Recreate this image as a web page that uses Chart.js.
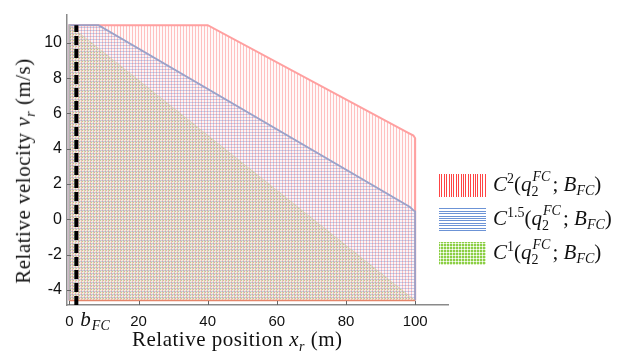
<!DOCTYPE html>
<html lang="en">
<head>
<meta charset="UTF-8">
<title>Relative velocity vs relative position</title>
<script src="https://cdn.jsdelivr.net/npm/chart.js"></script>
<style>
    body { margin: 0; background: #fff; }
    #wrap { position: relative; width: 641px; height: 360px; }
    .math { font-family: "Liberation Serif", serif; color: #111; white-space: nowrap; }
    #xTitle { position: absolute; left: 132px; top: 327px; font-size: 21px; letter-spacing: 0.5px; }
    #yTitle { position: absolute; left: 25px; top: 171px; font-size: 21px; letter-spacing: 0.5px;
              transform: translate(-50%, -50%) rotate(-90deg); }
    #legend { position: absolute; left: 439px; top: 168px; }
    .row { display: flex; align-items: center; height: 34px; }
    .sw { width: 47px; height: 23px; margin-right: 7px; flex: none; }
    .sw.red { background: repeating-linear-gradient(90deg, #f44 0 1px, #fff 1px 2.4px); }
    .sw.blue { background: repeating-linear-gradient(0deg, #6c93d6 0 1px, #fff 1px 2.4px); }
    .sw.green { background: #8ccf45 radial-gradient(circle, #fff 0.9px, transparent 1.2px) 0 0 / 3px 3px; }
    .lab { font-size: 21px; }
    .lab i { font-style: italic; }
    .sup { font-size: 14px; vertical-align: 8px; }
    .sub { font-size: 14px; vertical-align: -4px; }
    .st { display: inline-block; position: relative; width: 21px; height: 1em; font-size: 14px; }
    .st .up { position: absolute; left: 1px; top: -8px; }
    .st .dn { position: absolute; left: 0; top: 7px; font-style: normal; }
</style>
</head>
<body>
<div id="wrap">
    <canvas id="regionChart" width="641" height="360"></canvas>
    <div id="xTitle" class="math">Relative position <i>x<sub style="font-size:14px">r</sub></i> (m)</div>
    <div id="yTitle" class="math">Relative velocity <i>v<sub style="font-size:14px">r</sub></i> (m/s)</div>
    <div id="legend" class="math">
        <div class="row"><div class="sw red"></div><span class="lab"><i>C</i><span class="sup">2</span>(<i>q</i><span class="st"><i class="up">FC</i><span class="dn">2</span></span>; <i>B</i><i class="sub">FC</i>)</span></div>
        <div class="row"><div class="sw blue"></div><span class="lab"><i>C</i><span class="sup">1.5</span>(<i>q</i><span class="st"><i class="up">FC</i><span class="dn">2</span></span>; <i>B</i><i class="sub">FC</i>)</span></div>
        <div class="row"><div class="sw green"></div><span class="lab"><i>C</i><span class="sup">1</span>(<i>q</i><span class="st"><i class="up">FC</i><span class="dn">2</span></span>; <i>B</i><i class="sub">FC</i>)</span></div>
    </div>
</div>

<script>
    // axis limits and ticks
    var xMin = -0.7, xMax = 109.5;
    var yMin = -4.85, yMax = 11.6;
    var xTicks = [0, 20, 40, 60, 80, 100];
    var yTicks = [-4, -2, 0, 2, 4, 6, 8, 10];

    // b_FC marker position and the floor of the sets
    var bFC = 2;
    var vTop = 11;
    var yBottom = -4.6;

    // C^2 set boundary
    var c2X = [0, 0, 40, 98, 99.5, 100, 100];
    var c2Y = [yBottom, 11, 11, 4.9, 4.75, 4.6, yBottom];
    // C^1.5 set boundary
    var c15X = [0, 0, 8.4, 98.5, 99.6, 100, 100];
    var c15Y = [yBottom, 11, 11, 0.7, 0.5, 0.45, yBottom];
    // C^1 set boundary
    var c1X = [0, 0, 100];
    var c1Y = [yBottom, 11, yBottom];

    function pts(xs, ys) {
        return xs.map(function(x, i) { return {x: x, y: ys[i]}; });
    }

    var ctx = document.getElementById('regionChart').getContext('2d');

    // small repeating tiles for the hatch fills
    function makePattern(kind, size, lineColor, baseColor) {
        var c = document.createElement('canvas');
        c.width = size; c.height = size;
        var g = c.getContext('2d');
        g.fillStyle = baseColor;
        g.fillRect(0, 0, size, size);
        g.fillStyle = lineColor;
        if (kind === 'v') g.fillRect(0, 0, 1, size);
        if (kind === 'h') g.fillRect(0, 0, size, 1);
        if (kind === 'd') { g.fillRect(1, 1, 1, 1); }
        return ctx.createPattern(c, 'repeat');
    }

    var redFill = makePattern('v', 3, 'rgba(255,70,70,0.32)', 'rgba(255,140,140,0.05)');
    var blueFill = makePattern('h', 3, 'rgba(80,110,200,0.28)', 'rgba(100,120,200,0.04)');
    var greenFill = makePattern('d', 3, 'rgba(120,170,40,0.45)', 'rgba(190,190,90,0.14)');

    var innerTicks = {
        id: 'innerTicks',
        afterDraw: function(chart) {
            var c = chart.ctx, a = chart.chartArea, sx = chart.scales.x, sy = chart.scales.y;
            c.save();
            c.strokeStyle = '#666';
            c.lineWidth = 1;
            sx.ticks.forEach(function(t) {
                var px = Math.round(sx.getPixelForValue(t.value)) + 0.5;
                c.beginPath(); c.moveTo(px, a.bottom); c.lineTo(px, a.bottom - 4); c.stroke();
            });
            sy.ticks.forEach(function(t) {
                var py = Math.round(sy.getPixelForValue(t.value)) + 0.5;
                c.beginPath(); c.moveTo(a.left, py); c.lineTo(a.left + 4, py); c.stroke();
            });
            // b_FC label under the dashed line
            var bx = sx.getPixelForValue(bFC) + 4;
            c.fillStyle = '#111';
            c.font = 'italic 21px "Liberation Serif"';
            c.fillText('b', bx, a.bottom + 21);
            var w = c.measureText('b').width;
            c.font = 'italic 14px "Liberation Serif"';
            c.fillText('FC', bx + w + 1, a.bottom + 25);
            c.restore();
        }
    };

    new Chart(ctx, {
        type: 'line',
        data: {
            datasets: [{
                label: 'bFC',
                data: pts([bFC, bFC], [yMin, vTop]),
                borderColor: '#000',
                borderWidth: 4,
                borderDash: [9, 4],
                pointRadius: 0,
                fill: false
            }, {
                label: 'floor',
                data: pts([0, 100], [yBottom, yBottom]),
                borderColor: '#e5866a',
                borderWidth: 1.5,
                pointRadius: 0,
                fill: false
            }, {
                label: 'C1',
                data: pts(c1X, c1Y),
                borderColor: 'rgba(200,200,150,0.5)',
                borderWidth: 1,
                backgroundColor: greenFill,
                pointRadius: 0,
                fill: {value: yBottom}
            }, {
                label: 'C1.5',
                data: pts(c15X, c15Y),
                borderColor: '#9ba2c9',
                borderWidth: 1.8,
                backgroundColor: blueFill,
                pointRadius: 0,
                fill: {value: yBottom}
            }, {
                label: 'C2',
                data: pts(c2X, c2Y),
                borderColor: '#ffa0a0',
                borderWidth: 2,
                backgroundColor: redFill,
                pointRadius: 0,
                fill: {value: yBottom}
            }]
        },
        options: {
            responsive: false,
            animation: false,
            layout: { padding: { top: 4, right: 193, left: 0, bottom: 0 } },
            plugins: { legend: { display: false }, tooltip: { enabled: false } },
            elements: { line: { tension: 0 } },
            scales: {
                x: {
                    type: 'linear',
                    min: xMin,
                    max: xMax,
                    afterBuildTicks: function(s) { s.ticks = xTicks.map(function(v) { return {value: v}; }); },
                    afterFit: function(s) { s.height = 55; },
                    grid: { drawOnChartArea: false, drawTicks: false },
                    border: { color: '#8a8a8a', width: 1.5 },
                    ticks: { color: '#111', padding: 8, maxRotation: 0, font: { family: 'Liberation Sans', size: 15 } }
                },
                y: {
                    min: yMin,
                    max: yMax,
                    afterBuildTicks: function(s) { s.ticks = yTicks.map(function(v) { return {value: v}; }); },
                    afterFit: function(s) { s.width = 67; },
                    grid: { drawOnChartArea: false, drawTicks: false },
                    border: { color: '#8a8a8a', width: 1.5 },
                    ticks: { color: '#111', padding: 5, font: { family: 'Liberation Sans', size: 16 } }
                }
            }
        },
        plugins: [innerTicks]
    });
</script>
</body>
</html>
